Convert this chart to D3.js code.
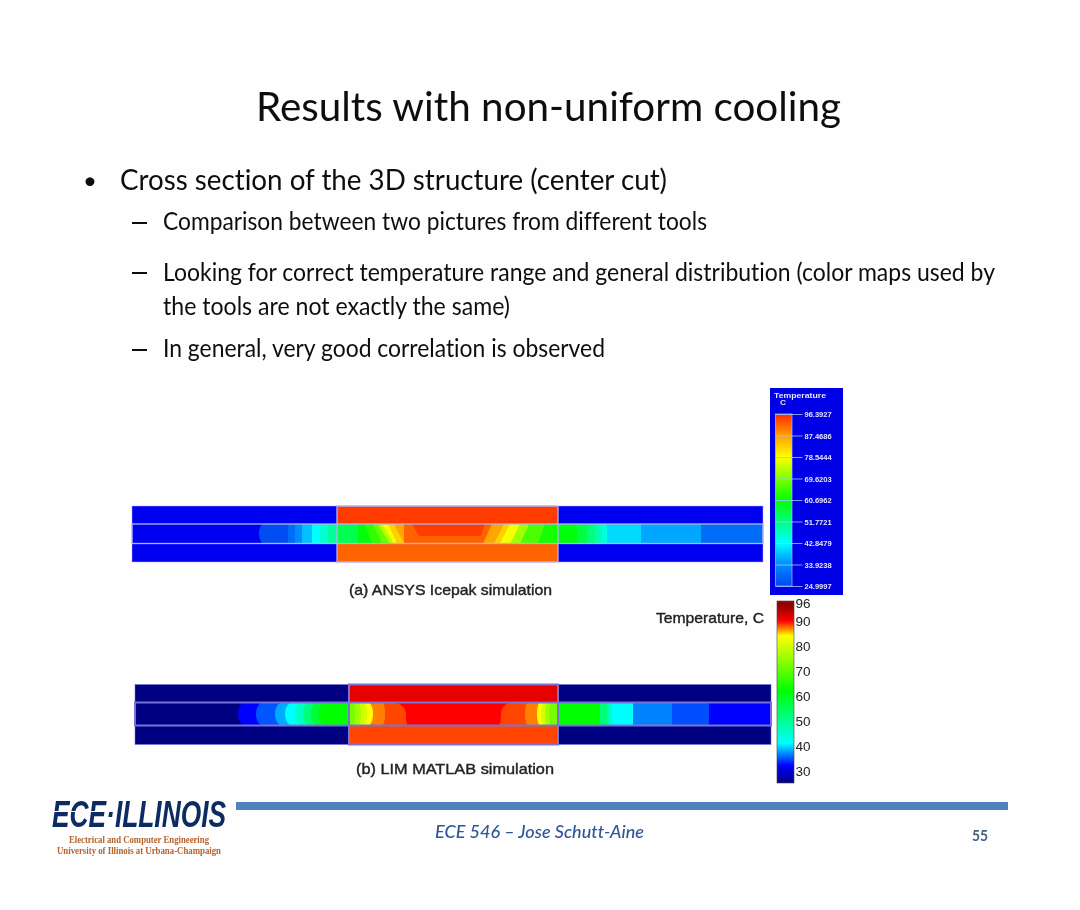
<!DOCTYPE html>
<html><head><meta charset="utf-8">
<script src="https://cdn.jsdelivr.net/npm/d3@7"></script>
<style>html,body{margin:0;padding:0;background:#fefefe}svg{display:block}text{font-variant-ligatures:none}</style>
</head><body><svg id="c" width="1080" height="910"></svg>
<script>
// ---- data ----
const titleText = "Results with non-uniform cooling";
const bulletLines = [
  "Cross section of the 3D structure (center cut)",
  "Comparison between two pictures from different tools",
  "Looking for correct temperature range and general distribution (color maps used by",
  "the tools are not exactly the same)",
  "In general, very good correlation is observed"
];
const captionA = "(a) ANSYS Icepak simulation";
const captionB = "(b) LIM MATLAB simulation";
const legendTitleB = "Temperature, C";
const footerText = "ECE 546 \u2013 Jose Schutt-Aine";
const pageNumber = "55";
const logoMain = "ECE\u00B7ILLINOIS";
const logoSub = ["Electrical and Computer Engineering", "University of Illinois at Urbana-Champaign"];

// colour maps (temperature -> colour)
const mapATemps = [25, 34, 42.85, 60.7, 78.55, 87.47, 96.39];
const mapAColors = ["#0046f0", "#008cff", "#00ffff", "#00ff00", "#ffff00", "#ffa000", "#ff2800"];
const mapBTemps = [25, 32, 41, 62, 84, 90, 96];
const mapBColors = ["#000082", "#0000ff", "#00ffff", "#00ff00", "#ffff00", "#ff0000", "#960000"];
const ticksA = [24.9997, 33.9238, 42.8479, 51.7721, 60.6962, 69.6203, 78.5444, 87.4686, 96.3927];
const ticksB = [30, 40, 50, 60, 70, 80, 90];

// section A: position along the cut (edge at top of layer, edge at bottom of layer), temperature
const aEdgeTop = [132,156,163,170,180,188,196,205,226,232,241,246,250,256,262,272, 353,360,372,378,388,397,413,426,445,455,463,470,475,509,569];
const aEdgeBot = [132,156,163,170,180,188,196,205,226,240,250,258,262,265,272,272, 346,351,362,368,378,388,406,426,445,455,463,470,475,509,569];
const aTemp    = [26, 30, 34, 38, 42.8,46, 50, 55, 60, 64, 68, 74, 78, 83, 87, 92,  92, 87, 83, 78, 72, 66, 62, 60, 56, 52, 48, 45, 40, 36, 30];
const aCoreEdges = [280, 287];      // hottest zone edge, top and bottom
const aCoreTemp = 94.8;
const aTopLayerTemp = 95, aBottomLayerTemp = 92;

// section B: band edges (top, middle, bottom of layer), temperature
const bCoolLeftEdges = [[110,103,110],[128,121,128],[147,140,147],[157,150,157],[167,160,167],[175,168,175],[183,176,183],[191,184,191]];
const bCoolLeftTemps = [32,35,38,41,46,52,58,62];
const bHotLeftEdges  = [[258,271,273],[247,250,247],[233,238,233],[228,232,228],[223,226,223],[218,220,218]];
const bHotLeftTemps  = [88.4,87,84,80,76,72];
const bHotRightEdges = [[377,366,364],[393,390,393],[405,402,405],[409,406,409],[413,410,413],[417,414,417]];
const bHotRightTemps = [88.4,87,84,80,76,72];
const bCoolRightEdges = [[423,423,423],[465,465,465],[472,472,472],[477,477,477],[498,498,498],[537,537,537],[574,574,574]];
const bCoolRightTemps = [62,52,46,41,36.6,34.8,32];
const bCoreTemp = 90, bBottomLayerTemp = 88.4;

// ---- drawing ----
const svg = d3.select("#c");
const defs = svg.append("defs");
defs.append("filter").attr("id","soft").append("feGaussianBlur").attr("stdDeviation",0.6);
defs.append("filter").attr("id","softT").append("feGaussianBlur").attr("stdDeviation",0.25);

const colorA = d3.scaleLinear().domain(mapATemps).range(mapAColors).clamp(true);
const colorB = d3.scaleLinear().domain(mapBTemps).range(mapBColors).clamp(true);

// text
const sans = "Lato, 'Open Sans', sans-serif";
const txt = svg.append("g").attr("filter","url(#softT)");
function put(g,s,x,y,size,len,opt={}){
  return g.append("text").attr("x",x).attr("y",y).attr("font-size",size)
    .attr("font-family",opt.f||sans).attr("fill",opt.c||"#111")
    .attr("font-weight",opt.w||"normal").attr("font-style",opt.i?"italic":"normal")
    .attr("textLength",len).attr("lengthAdjust",len==null?null:"spacingAndGlyphs").text(s);
}
put(txt,titleText,256,121,41,585);
put(txt,"\u2022",83,189,24,null);
put(txt,bulletLines[0],120,190,29,547);
const lineX=[163,163,163,163], lineY=[230,281,315,357], lineLen=[544,832,347,442];
bulletLines.slice(1).forEach((s,i)=>put(txt,s,lineX[i],lineY[i],24.5,lineLen[i]));
[222,272,349].forEach(y=>txt.append("rect").attr("x",132).attr("y",y).attr("width",15).attr("height",2).attr("fill","#111"));

const heat = svg.append("g").attr("filter","url(#soft)");

function section(cfg){
  const g = heat.append("g");
  const x = d3.scaleLinear().domain([0,cfg.len]).range(cfg.xr);
  const y = d3.scaleLinear().domain([0,cfg.h]).range(cfg.yr);
  const [l0,l1]=cfg.layers;
  const rect=(a,b,t0,t1,fill)=>g.append("rect").attr("x",x(a)).attr("y",y(t0)).attr("width",x(b)-x(a)).attr("height",y(t1)-y(t0)).attr("fill",fill);
  rect(0,cfg.len,0,cfg.h,cfg.ambient);
  rect(cfg.hot[0],cfg.hot[1],0,l0,cfg.topFill);
  rect(cfg.hot[0],cfg.hot[1],l1,cfg.h,cfg.botFill);
  cfg.paint(g,x,y,l0,l1);
  const box=(a,b,t0,t1)=>g.append("rect").attr("x",x(a)).attr("y",y(t0)).attr("width",x(b)-x(a)).attr("height",y(t1)-y(t0))
     .attr("fill","none").attr("stroke",cfg.line).attr("stroke-width",cfg.lw);
  box(0,cfg.len,l0,l1);
  box(cfg.hot[0],cfg.hot[1],0,cfg.h);
  g.append("rect").attr("x",x(0)).attr("y",y(0)).attr("width",x(cfg.len)-x(0)).attr("height",y(cfg.h)-y(0)).attr("fill","none").attr("stroke",cfg.line).attr("stroke-opacity",0.5);
}

section({len:631,h:56,xr:[132,763],yr:[506,562],layers:[18,37.5],hot:[205,426],lw:1.3,
  ambient:"#0000f0",topFill:colorA(aTopLayerTemp),botFill:colorA(aBottomLayerTemp),line:"#b4b2f6",
  paint(g,x,y,l0,l1){
    const band=(et,eb,anchor,t0,t1,fill)=>g.append("path").attr("fill",fill)
      .attr("d",`M${x(et)},${y(t0)}L${x(anchor)},${y(t0)}L${x(anchor)},${y(t1)}L${x(eb)},${y(t1)}Z`);
    // rounded start of the warm zone
    g.append("ellipse").attr("cx",x(aEdgeTop[0])).attr("cy",(y(l0)+y(l1))/2).attr("rx",5).attr("ry",(y(l1)-y(l0))/2).attr("fill",colorA(aTemp[0]));
    aTemp.forEach((t,i)=>{
      if(i===16){ band(aCoreEdges[0],aCoreEdges[1],631,l0,l0+12,colorA(aCoreTemp)); }
      band(aEdgeTop[i],aEdgeBot[i],631,l0,l1,colorA(t));
    });
  }});

section({len:636,h:60,xr:[135,771],yr:[684.5,744.5],layers:[18,41],hot:[214,423],lw:2,
  ambient:"#000082",topFill:"#e60000",botFill:colorB(bBottomLayerTemp),line:"#7a72d6",
  paint(g,x,y,l0,l1){
    // band whose free edge is a pair of quarter-ellipses through top, middle and bottom
    const band=(e,anchor,fill)=>{
      const [xt,xm,xb]=[x(e[0]),x(e[1]),x(e[2])], y0=y(l0), y1=y(l1), ym=(y0+y1)/2, k=0.55, h=(y1-y0)/2;
      g.append("path").attr("fill",fill).attr("d",
        `M${xt},${y0}C${xt+k*(xm-xt)},${y0} ${xm},${ym-k*h} ${xm},${ym}`+
        `C${xm},${ym+k*h} ${xb+k*(xm-xb)},${y1} ${xb},${y1}`+
        `L${x(anchor)},${y1}L${x(anchor)},${y0}Z`);
    };
    band([95,95,95],214,"#000082");
    bCoolLeftEdges.forEach((e,i)=>band(e,214,colorB(bCoolLeftTemps[i])));
    band([214,214,214],423,colorB(bCoreTemp));
    bHotLeftEdges.forEach((e,i)=>band(e,214,colorB(bHotLeftTemps[i])));
    bHotRightEdges.forEach((e,i)=>band(e,423,colorB(bHotRightTemps[i])));
    band([423,423,423],636,"#0000ff");
    bCoolRightEdges.forEach((e,i)=>{
      const end=i<bCoolRightEdges.length-1?bCoolRightEdges[i+1][1]:574;
      band(e,end,colorB(bCoolRightTemps[i]));
    });
  }});

// colour bars
function gradient(id,temps,colors,lo,hi){
  const gr=defs.append("linearGradient").attr("id",id).attr("x1",0).attr("x2",0).attr("y1",1).attr("y2",0);
  temps.forEach((t,i)=>gr.append("stop").attr("offset",(t-lo)/(hi-lo)).attr("stop-color",colors[i]));
}
gradient("gA",mapATemps,mapAColors,24.9997,96.3927);
gradient("gB",mapBTemps,mapBColors,25,98);

const lib="'Liberation Sans',sans-serif";
// bar A
const legA=svg.append("g").attr("filter","url(#softT)");
legA.append("rect").attr("x",770).attr("y",388).attr("width",73).attr("height",207).attr("fill","#0000e6");
const yA=d3.scaleLinear().domain([24.9997,96.3927]).range([586,414]);
legA.append("rect").attr("x",775.5).attr("y",yA(96.3927)).attr("width",16.5).attr("height",yA(24.9997)-yA(96.3927)).attr("fill","url(#gA)");
const axA=legA.append("g").attr("transform","translate(775.5,0)")
  .call(d3.axisRight(yA).tickValues(ticksA).tickFormat(d3.format(".4f")).tickSize(27).tickPadding(2));
axA.select(".domain").remove();
axA.selectAll("line").attr("stroke","#9fc8ff").attr("stroke-width",0.8);
axA.selectAll("text").attr("fill","#e6e6ff").attr("font-family",lib).attr("font-size",7.5).attr("font-weight","bold").attr("dy","0.36em");
legA.append("rect").attr("x",775.5).attr("y",yA(96.3927)).attr("width",16.5).attr("height",yA(24.9997)-yA(96.3927)).attr("fill","none").attr("stroke","#9fc8ff").attr("stroke-width",0.7);
put(legA,"Temperature",774,398,7.5,52,{c:"#e6e6ff",w:"bold",f:lib});
put(legA,"C",780,405,7.5,6,{c:"#e6e6ff",w:"bold",f:lib});

// bar B
const legB=svg.append("g").attr("filter","url(#softT)");
const yB=d3.scaleLinear().domain([25,98]).range([783,601]);
legB.append("rect").attr("x",777).attr("y",yB(98)).attr("width",17).attr("height",yB(25)-yB(98)).attr("fill","url(#gB)").attr("stroke","#444").attr("stroke-width",0.6);
const axB=legB.append("g").attr("transform","translate(794,0)")
  .call(d3.axisRight(yB).tickValues(ticksB).tickSize(0).tickPadding(1.5));
axB.select(".domain").remove();
axB.selectAll("text").attr("fill","#222").attr("font-family",lib).attr("font-size",13.5).attr("dy","0.36em");
axB.append("text").attr("x",1.5).attr("y",yB(96)-3).attr("dy","0.36em").attr("fill","#222").attr("font-family",lib).attr("font-size",13.5).attr("text-anchor","start").text("96");

// captions
put(txt,captionA,349,595,15,203,{f:lib,c:"#222"}).attr("stroke","#222").attr("stroke-width",0.4);
put(txt,legendTitleB,656,623,15,108,{f:lib,c:"#222"}).attr("stroke","#222").attr("stroke-width",0.4);
put(txt,captionB,356,774,15,198,{f:lib,c:"#222"}).attr("stroke","#222").attr("stroke-width",0.4);

// footer
const foot=svg.append("g").attr("filter","url(#softT)");
foot.append("rect").attr("x",236).attr("y",802).attr("width",772).attr("height",8).attr("fill","#4f81bd");
put(foot,footerText,435,838,17.5,209,{c:"#2f5597",i:true,w:"500"});
put(foot,pageNumber,972,841,15,16,{c:"#44607f",w:"bold"});
put(foot,logoMain,52,827,37,174,{f:lib,c:"#0b2a63",w:"bold",i:true});
foot.append("rect").attr("x",52).attr("y",811).attr("width",64).attr("height",1).attr("fill","#fefefe");
put(foot,logoSub[0],69,843,9.5,140,{f:"'Liberation Serif',serif",c:"#b5622f",w:"bold"});
put(foot,logoSub[1],57,854,9.5,164,{f:"'Liberation Serif',serif",c:"#b5622f",w:"bold"});
</script></body></html>
